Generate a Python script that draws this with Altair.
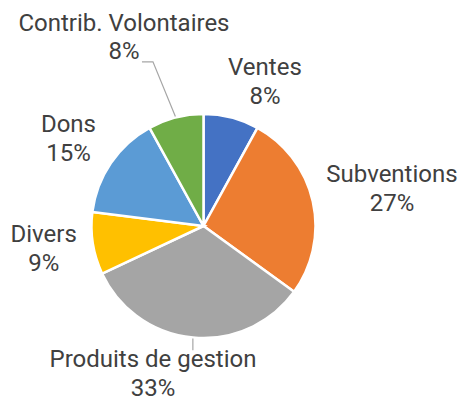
import math
import altair as alt
import pandas as pd

# ---- data ----
categories = ["Ventes", "Subventions", "Produits de gestion", "Divers", "Dons", "Contrib. Volontaires"]
percent = [8, 27, 33, 9, 15, 8]
colors = ["#4472C4", "#ED7D31", "#A5A5A5", "#FFC000", "#5B9BD5", "#70AD47"]

# ---- layout (label placement, leader lines) ----
label_shift_deg = [8.8, 1.6, 13.4, 0.7, -1.5, -8.55]
label_radius = [156, 192, 156.7, 161.5, 160.5, 204]
leader = [False, False, True, False, False, True]

W, H = 450, 395
CX, CY = 195.5, 218.0
R = 112
LH = 28.5

total = sum(percent)
rows, lab_rows, lead_rows = [], [], []
cum = 0
for i, (c, p) in enumerate(zip(categories, percent)):
    mid = (cum + p / 2) / total * 360
    cum += p
    rows.append({"cat": c, "val": p, "order": i})
    a = math.radians(mid + label_shift_deg[i])
    lx = CX + label_radius[i] * math.sin(a)
    ly = CY - label_radius[i] * math.cos(a)
    lab_rows.append({"cat": c, "label": f"{c}\n{p}%", "x": lx, "y": ly - LH / 2})
    if leader[i]:
        am = math.radians(mid)
        sx = CX + (R + 1) * math.sin(am)
        sy = CY - (R + 1) * math.cos(am)
        if mid > 270:
            pts = [(sx, sy), (lx + 29, ly + 23.7), (lx + 18, ly + 23.7)]
        else:
            pts = [(sx, sy), (sx, ly - 24)]
        for k, (px, py) in enumerate(pts):
            lead_rows.append({"cat": c, "k": k, "x": px, "y": py})

df = pd.DataFrame(rows)
labels = pd.DataFrame(lab_rows)
leads = pd.DataFrame(lead_rows)

pie = alt.Chart(df).mark_arc(outerRadius=R, stroke="white", strokeWidth=2.5).encode(
    theta=alt.Theta("val:Q", stack=True),
    order=alt.Order("order:Q"),
    color=alt.Color("cat:N", scale=alt.Scale(domain=categories, range=colors), legend=None),
    x=alt.value(CX),
    y=alt.value(CY),
)

lines = alt.Chart(leads).mark_line(color="#A6A6A6", strokeWidth=1.2).encode(
    x=alt.X("x:Q", scale=None),
    y=alt.Y("y:Q", scale=None),
    detail="cat:N",
    order="k:Q",
)

text = alt.Chart(labels).mark_text(
    font="Roboto", fontSize=24, lineHeight=LH, color="#404040",
    align="center", baseline="middle", lineBreak="\n",
).encode(
    x=alt.X("x:Q", scale=None),
    y=alt.Y("y:Q", scale=None),
    text="label:N",
)

chart = alt.layer(pie, lines, text).properties(
    width=W, height=H, padding=0, autosize="none"
).configure_view(stroke=None)

chart.save("out.html", embed_options={"renderer": "svg", "actions": False})
